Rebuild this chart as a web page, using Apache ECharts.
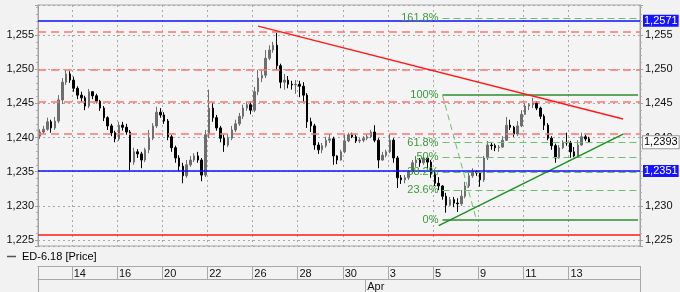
<!DOCTYPE html>
<html><head><meta charset="utf-8">
<script src="https://cdn.jsdelivr.net/npm/echarts@6/dist/echarts.min.js"></script>
<style>html,body{margin:0;padding:0;background:#f2f2f2}#c{width:680px;height:292px}</style>
</head><body><div id="c"></div><script>
// ---- data ----
const dayList = ['03-12','03-13','03-14','03-15','03-16','03-19','03-20','03-21','03-22','03-23',
  '03-26','03-27','03-28','03-29','03-30','04-02','04-03','04-04','04-05','04-06',
  '04-09','04-10','04-11','04-12','04-13'];
const barsPerDay = [3,6,6,6,6,6,6,6,6,6,6,6,6,6,6,6,6,6,6,6,6,6,6,6,6];
const futureDays = ['04-16','04-17','04-18'];
const futureBars = [6,6,1];
const tickDays = ['03-14','03-16','03-20','03-22','03-26','03-28','03-30','04-03','04-05','04-09','04-11','04-13'];
const monthStarts = ['04-02'];
const monthNames = ['Apr'];
// [open, close, low, high]
const ohlc = [
[1.2402,1.2408,1.2398,1.2412],[1.2408,1.2412,1.2405,1.2417],[1.2412,1.2423,1.2410,1.2429],
[1.2423,1.2414,1.2407,1.2426],[1.2414,1.2424,1.2411,1.2430],[1.2424,1.2455,1.2421,1.2462],
[1.2455,1.2481,1.2449,1.2487],[1.2481,1.2493,1.2477,1.2499],[1.2493,1.2484,1.2480,1.2497],
[1.2484,1.2472,1.2467,1.2489],[1.2472,1.2462,1.2456,1.2475],[1.2462,1.2458,1.2452,1.2467],
[1.2458,1.2446,1.2440,1.2461],[1.2446,1.2467,1.2443,1.2471],[1.2467,1.2461,1.2456,1.2468],
[1.2461,1.2453,1.2450,1.2464],[1.2453,1.2443,1.2439,1.2455],[1.2443,1.2429,1.2424,1.2446],
[1.2429,1.2417,1.2411,1.2431],[1.2417,1.2407,1.2402,1.2420],[1.2407,1.2398,1.2393,1.2410],
[1.2398,1.2418,1.2395,1.2423],[1.2418,1.2415,1.2410,1.2423],[1.2415,1.2408,1.2404,1.2420],
[1.2408,1.2364,1.2352,1.2411],[1.2364,1.2379,1.2360,1.2385],[1.2379,1.2376,1.2370,1.2383],
[1.2376,1.2367,1.2355,1.2379],[1.2367,1.2382,1.2364,1.2385],[1.2382,1.2399,1.2377,1.2411],
[1.2399,1.2417,1.2396,1.2421],[1.2417,1.2437,1.2414,1.2445],[1.2437,1.2433,1.2429,1.2443],
[1.2433,1.2424,1.2420,1.2437],[1.2424,1.2401,1.2396,1.2427],[1.2401,1.2385,1.2379,1.2404],
[1.2385,1.2370,1.2363,1.2388],[1.2370,1.2358,1.2351,1.2374],[1.2358,1.2344,1.2333,1.2363],
[1.2344,1.2360,1.2341,1.2367],[1.2360,1.2367,1.2357,1.2373],[1.2367,1.2373,1.2364,1.2377],
[1.2373,1.2367,1.2363,1.2379],[1.2367,1.2345,1.2336,1.2370],[1.2345,1.2404,1.2342,1.2411],
[1.2404,1.2443,1.2399,1.2470],[1.2443,1.2429,1.2423,1.2450],[1.2429,1.2414,1.2410,1.2433],
[1.2414,1.2399,1.2393,1.2417],[1.2399,1.2389,1.2379,1.2404],[1.2389,1.2399,1.2386,1.2405],
[1.2399,1.2411,1.2396,1.2417],[1.2411,1.2420,1.2408,1.2426],[1.2420,1.2431,1.2417,1.2436],
[1.2431,1.2443,1.2427,1.2448],[1.2443,1.2448,1.2439,1.2452],[1.2448,1.2440,1.2434,1.2453],
[1.2440,1.2467,1.2437,1.2474],[1.2467,1.2487,1.2462,1.2499],[1.2487,1.2491,1.2481,1.2499],
[1.2491,1.2516,1.2487,1.2528],[1.2516,1.2528,1.2513,1.2535],[1.2528,1.2535,1.2524,1.2540],
[1.2535,1.2505,1.2499,1.2553],[1.2505,1.2481,1.2472,1.2508],[1.2481,1.2484,1.2470,1.2493],
[1.2484,1.2478,1.2472,1.2490],[1.2478,1.2477,1.2470,1.2483],[1.2477,1.2478,1.2464,1.2484],
[1.2478,1.2475,1.2459,1.2483],[1.2475,1.2462,1.2452,1.2481],[1.2462,1.2423,1.2414,1.2465],
[1.2423,1.2417,1.2408,1.2429],[1.2417,1.2389,1.2382,1.2420],[1.2389,1.2382,1.2376,1.2393],
[1.2382,1.2388,1.2377,1.2392],[1.2388,1.2396,1.2385,1.2401],[1.2396,1.2398,1.2392,1.2405],
[1.2398,1.2373,1.2360,1.2401],[1.2373,1.2367,1.2361,1.2374],[1.2367,1.2379,1.2366,1.2382],
[1.2379,1.2395,1.2377,1.2404],[1.2395,1.2404,1.2393,1.2407],[1.2404,1.2401,1.2399,1.2407],
[1.2401,1.2395,1.2392,1.2404],[1.2395,1.2396,1.2392,1.2399],[1.2396,1.2399,1.2393,1.2402],
[1.2399,1.2401,1.2396,1.2405],[1.2401,1.2408,1.2399,1.2411],[1.2408,1.2396,1.2393,1.2418],
[1.2396,1.2367,1.2355,1.2399],[1.2367,1.2374,1.2366,1.2379],[1.2374,1.2379,1.2371,1.2382],
[1.2379,1.2396,1.2377,1.2405],[1.2396,1.2370,1.2363,1.2399],[1.2370,1.2341,1.2326,1.2373],
[1.2341,1.2338,1.2332,1.2345],[1.2338,1.2341,1.2333,1.2345],[1.2341,1.2350,1.2338,1.2352],
[1.2350,1.2363,1.2347,1.2367],[1.2363,1.2367,1.2357,1.2373],[1.2367,1.2363,1.2357,1.2370],
[1.2363,1.2370,1.2360,1.2373],[1.2370,1.2364,1.2355,1.2373],[1.2364,1.2347,1.2341,1.2367],
[1.2347,1.2333,1.2329,1.2350],[1.2333,1.2329,1.2323,1.2342],[1.2329,1.2314,1.2309,1.2330],
[1.2314,1.2301,1.2290,1.2319],[1.2301,1.2309,1.2300,1.2313],[1.2309,1.2304,1.2298,1.2313],
[1.2304,1.2303,1.2291,1.2311],[1.2303,1.2314,1.2300,1.2323],[1.2314,1.2329,1.2311,1.2335],
[1.2329,1.2344,1.2326,1.2348],[1.2344,1.2350,1.2341,1.2355],[1.2350,1.2348,1.2344,1.2352],
[1.2348,1.2338,1.2328,1.2350],[1.2338,1.2370,1.2335,1.2373],[1.2370,1.2389,1.2367,1.2395],
[1.2389,1.2388,1.2382,1.2393],[1.2388,1.2385,1.2380,1.2391],[1.2385,1.2386,1.2379,1.2389],
[1.2386,1.2396,1.2385,1.2402],[1.2396,1.2418,1.2395,1.2430],[1.2418,1.2415,1.2411,1.2426],
[1.2415,1.2405,1.2401,1.2417],[1.2405,1.2417,1.2402,1.2424],[1.2417,1.2434,1.2415,1.2440],
[1.2434,1.2446,1.2433,1.2450],[1.2446,1.2448,1.2440,1.2450],[1.2448,1.2450,1.2443,1.2458],
[1.2450,1.2443,1.2440,1.2453],[1.2443,1.2431,1.2427,1.2445],[1.2431,1.2418,1.2411,1.2434],
[1.2418,1.2399,1.2396,1.2421],[1.2399,1.2388,1.2382,1.2402],[1.2388,1.2370,1.2363,1.2391],
[1.2370,1.2385,1.2369,1.2389],[1.2385,1.2393,1.2383,1.2396],[1.2393,1.2392,1.2388,1.2407],
[1.2392,1.2379,1.2370,1.2395],[1.2379,1.2373,1.2371,1.2386],[1.2373,1.2389,1.2370,1.2396],
[1.2389,1.2401,1.2388,1.2407],[1.2401,1.2398,1.2395,1.2404],[1.2398,1.2393,1.2392,1.2401]
];
const lastPrice = 1.2393;
const blueLevels = [1.2571, 1.2351];
const redDashLevels = [1.2555, 1.2499, 1.2452, 1.2406];
const redSolidLevels = [1.2258];
const fibLow = 1.2280, fibHigh = 1.2462;
const fibRatios = [1.618, 1, 0.618, 0.5, 0.382, 0.236, 0];
const fibSolid = [1, 0];
// anchors: [bar index, price]
const fibAnchorHigh = [107, fibHigh];
const fibAnchorLow = [116, fibLow];
const redTrend = [[58, 1.2563], [155, 1.2427]];
const greenTrend = [[106, 1.2271], [155, 1.2405]];
const yMin = 1.22412, yMax = 1.25939;

// ---- build ----
const cats = [];
const startIdx = {};
dayList.forEach((d, di) => { startIdx[d] = cats.length; for (let k = 0; k < barsPerDay[di]; k++) cats.push(d + ' #' + (k + 1)); });
futureDays.forEach((d, di) => { startIdx[d] = cats.length; for (let k = 0; k < futureBars[di]; k++) cats.push(d + ' #' + (k + 1)); });
const seriesData = cats.map((c, i) => i < ohlc.length ? ohlc[i] : '-');
const tickSet = new Set(tickDays.map(d => startIdx[d]));
const monthSet = new Set(monthStarts.map(d => startIdx[d]));
const monthName = {}; monthStarts.forEach((d, i) => monthName[startIdx[d]] = monthNames[i]);
const lastCat = cats[cats.length - 1];

const fmt3 = v => v.toFixed(3).replace('.', ',');
const fmt4 = v => v.toFixed(4).replace('.', ',');
const FONT = 'Liberation Sans';

const mlData = [];
redDashLevels.forEach(v => mlData.push({ yAxis: v, lineStyle: { color: '#ff7373', width: 1.6, type: [8, 5] }, label: { show: false } }));
redSolidLevels.forEach(v => mlData.push({ yAxis: v, lineStyle: { color: '#ff1a1a', width: 1.5, type: 'solid' }, label: { show: false } }));
fibRatios.forEach(r => {
  const v = fibLow + r * (fibHigh - fibLow);
  const solid = fibSolid.includes(r);
  mlData.push([
    { coord: [cats[fibAnchorHigh[0]], v],
      lineStyle: solid ? { color: '#2f8f2f', width: 1.6, type: 'solid' } : { color: '#6cbf6c', width: 1, type: [7, 4] },
      label: { show: true, position: 'start', distance: 4, formatter: (+(r * 100).toFixed(1)) + '%', color: '#3a9a3a', fontSize: 11, fontFamily: FONT } },
    { coord: [lastCat, v] }
  ]);
});
mlData.push([
  { coord: [cats[fibAnchorHigh[0]], fibAnchorHigh[1]], lineStyle: { color: '#6cbf6c', width: 1, type: [6, 4] }, label: { show: false } },
  { coord: [cats[fibAnchorLow[0]], fibAnchorLow[1]] }
]);
mlData.push([
  { coord: [cats[redTrend[0][0]], redTrend[0][1]], lineStyle: { color: '#ff1a1a', width: 1.5, type: 'solid' }, label: { show: false } },
  { coord: [cats[redTrend[1][0]], redTrend[1][1]] }
]);
mlData.push([
  { coord: [cats[greenTrend[0][0]], greenTrend[0][1]], lineStyle: { color: '#1f8f1f', width: 1.5, type: 'solid' }, label: { show: false } },
  { coord: [cats[greenTrend[1][0]], greenTrend[1][1]] }
]);
blueLevels.forEach(v => mlData.push({ yAxis: v, lineStyle: { color: '#1010ff', width: 1.5, type: 'solid' },
  label: { show: true, position: 'end', distance: 3, formatter: fmt4(v), color: '#fff', backgroundColor: '#1414ff', padding: [1, 1, 0, 1], fontSize: 11, fontFamily: FONT } }));
mlData.push({ yAxis: lastPrice, lineStyle: { color: 'rgba(0,0,0,0)', width: 1 },
  label: { show: true, position: 'end', distance: 3, formatter: fmt4(lastPrice), color: '#000', backgroundColor: '#ffffff', borderColor: '#999999', borderWidth: 1, padding: [1, 1, 0, 1], fontSize: 11, fontFamily: FONT, opacity: 1 } });

const yCommon = {
  type: 'value', min: yMin, max: yMax, splitNumber: 7,
  axisLine: { show: true, lineStyle: { color: '#a0a0a0' } },
  axisTick: { show: true, length: 3, lineStyle: { color: '#a0a0a0' } },
  minorTick: { show: true, splitNumber: 5, length: 2, lineStyle: { color: '#b0b0b0' } },
  axisLabel: { fontSize: 11, color: '#111', fontFamily: FONT, formatter: fmt3, showMinLabel: false, showMaxLabel: false },
};

const chart = echarts.init(document.getElementById('c'), null, { renderer: 'canvas' });
chart.setOption({
  animation: false,
  backgroundColor: '#f2f2f2',
  textStyle: { fontFamily: FONT },
  legend: {
    left: 7, top: 251, padding: 0, itemWidth: 9, itemHeight: 1.5, itemGap: 5, icon: 'rect',
    textStyle: { fontSize: 11, color: '#000', fontFamily: FONT, padding: [0, 0, 0, 1] },
    itemStyle: { color: '#555', borderWidth: 0 },
    data: ['ED-6.18 [Price]']
  },
  grid: { left: 38, right: 40, top: 5, bottom: 46, show: true, backgroundColor: '#f4f4f4', borderColor: '#a8a8a8', borderWidth: 1 },
  xAxis: [
    { type: 'category', data: cats, boundaryGap: true, position: 'bottom',
      axisLine: { show: false }, axisTick: { show: false }, axisLabel: { show: false },
      splitLine: { show: true, interval: i => tickSet.has(i), lineStyle: { color: '#a8a8a8', type: [2, 3] } } },
    { type: 'category', data: cats, boundaryGap: true, position: 'bottom', offset: 20,
      axisLine: { show: true, lineStyle: { color: '#a8a8a8' } },
      axisTick: { show: true, interval: i => i === 0 || tickSet.has(i), length: 13, lineStyle: { color: '#a8a8a8' } },
      axisLabel: { show: true, interval: i => tickSet.has(i), align: 'left', margin: 2, fontSize: 11, color: '#111', fontFamily: FONT,
        formatter: v => String(parseInt(v.slice(3, 5), 10)) },
      splitLine: { show: false } },
    { type: 'category', data: cats, boundaryGap: true, position: 'bottom', offset: 33,
      axisLine: { show: true, lineStyle: { color: '#a8a8a8' } },
      axisTick: { show: true, interval: i => i === 0 || monthSet.has(i), length: 13, lineStyle: { color: '#a8a8a8' } },
      axisLabel: { show: true, interval: i => monthSet.has(i), align: 'left', margin: 2, fontSize: 11, color: '#111', fontFamily: FONT,
        formatter: (v, i) => monthName[i] || '' },
      splitLine: { show: false } }
  ],
  yAxis: [
    Object.assign({}, yCommon, { position: 'left', axisLabel: Object.assign({}, yCommon.axisLabel, { margin: 4 }),
      splitLine: { show: true, lineStyle: { color: '#a8a8a8', type: [2, 3] } } }),
    Object.assign({}, yCommon, { position: 'right', axisLabel: Object.assign({}, yCommon.axisLabel, { margin: 5 }),
      splitLine: { show: false } })
  ],
  series: [{
    name: 'ED-6.18 [Price]', type: 'candlestick', xAxisIndex: 0, yAxisIndex: 0,
    data: seriesData, barWidth: 2,
    itemStyle: { color: '#6e6e6e', color0: '#000', borderColor: '#6e6e6e', borderColor0: '#000', borderWidth: 1 },
    markLine: { silent: true, precision: 4, symbol: ['none', 'none'], animation: false, data: mlData }
  }]
});
</script></body></html>
